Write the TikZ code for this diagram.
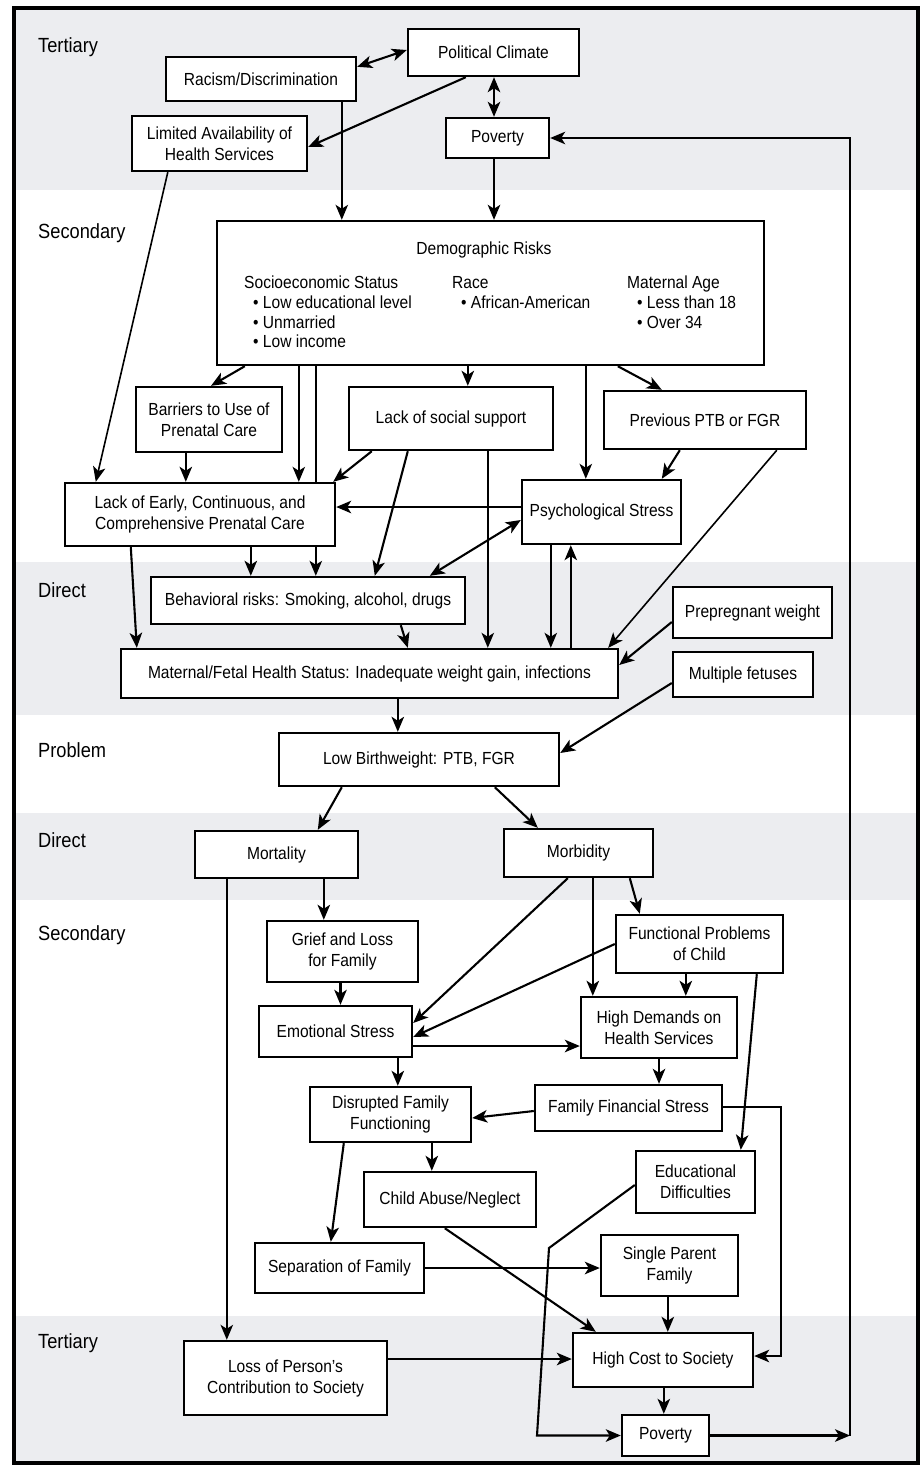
\documentclass[tikz,border=0pt]{standalone}
\usepackage{fontspec}
\setmainfont{Liberation Sans}[FakeStretch=0.89]
\usetikzlibrary{arrows.meta,calc}
\definecolor{bandgray}{RGB}{236,237,240}
\pgfdeclarelayer{bands}
\pgfdeclarelayer{links}
\pgfsetlayers{bands,links,main}
\tikzset{
  box/.style={draw, line width=2.4pt, fill=white, align=center, inner sep=0pt,
    font=\fontsize{17.5}{21}\selectfont},
  lvl/.style={anchor=west, inner sep=0pt, font=\fontsize{20.5}{22}\selectfont},
  dtxt/.style={anchor=base west, inner sep=0pt, font=\fontsize{17.5}{20}\selectfont},
  tip/.tip={Stealth[length=15pt,width=12.5pt,inset=4pt]},
  link/.style={line width=2.1pt, -tip},
  both/.style={line width=2.1pt, tip-tip},
  thin/.style={line width=1.6pt},
}
\begin{document}
\begin{tikzpicture}[x=1pt,y=-1pt]
\useasboundingbox (0,0) rectangle (920,1467);

% level bands and frame
\begin{pgfonlayer}{bands}
  \fill[bandgray] (13.5,8) rectangle (917.5,190);
  \fill[bandgray] (13.5,562) rectangle (917.5,715);
  \fill[bandgray] (13.5,813) rectangle (917.5,900);
  \fill[bandgray] (13.5,1316) rectangle (917.5,1463);
  \draw[line width=4pt] (13.5,8) rectangle (917.5,1463);
\end{pgfonlayer}

% level labels
\node[lvl] (tTop) at (38,47) {Tertiary};
\node[lvl] (sTop) at (38,233) {Secondary};
\node[lvl] (dTop) at (38,590) {Direct};
\node[lvl] (prob) at (38,750) {Problem};
\node[lvl] (dBot) at (38,840) {Direct};
\node[lvl] (sBot) at (38,935) {Secondary};
\node[lvl] (tBot) at (38,1343) {Tertiary};

% boxes
\node[box, minimum width=171, minimum height=47] (polit) at (493.5,52.5) {Political Climate};
\node[box, minimum width=190, minimum height=44] (racism) at (261,79) {Racism/Discrimination};
\node[box, minimum width=175, minimum height=55] (limited) at (219.5,143.5) {Limited Availability of\\Health Services};
\node[box, minimum width=103, minimum height=40] (pov1) at (497.5,138) {Poverty};
\node[box, minimum width=547, minimum height=144] (demo) at (490.5,293) {};
\node[box, minimum width=146, minimum height=65] (barriers) at (209,419.5) {Barriers to Use of\\Prenatal Care};
\node[box, minimum width=204, minimum height=63] (social) at (451,418.5) {Lack of social support};
\node[box, minimum width=202, minimum height=58] (prevptb) at (705,420) {Previous PTB or FGR};
\node[box, minimum width=270, minimum height=63] (lackcare) at (200,514.5) {Lack of Early, Continuous, and\\Comprehensive Prenatal Care};
\node[box, minimum width=159, minimum height=64] (psych) at (601.5,512) {Psychological Stress};
\node[box, minimum width=314, minimum height=47] (behav) at (308,600.5) {Behavioral risks: Smoking, alcohol, drugs};
\node[box, minimum width=159, minimum height=51] (prepreg) at (752.5,612.5) {Prepregnant weight};
\node[box, minimum width=497, minimum height=49] (maternal) at (369.5,673.5) {Maternal/Fetal Health Status: Inadequate weight gain, infections};
\node[box, minimum width=140, minimum height=45] (multiple) at (743,674.5) {Multiple fetuses};
\node[box, minimum width=280, minimum height=53] (lbw) at (419,759.5) {Low Birthweight: PTB, FGR};
\node[box, minimum width=163, minimum height=47] (mortality) at (276.5,854.5) {Mortality};
\node[box, minimum width=149, minimum height=48] (morbidity) at (578.5,853) {Morbidity};
\node[box, minimum width=151, minimum height=61] (grief) at (342.5,951.5) {Grief and Loss\\for Family};
\node[box, minimum width=167, minimum height=58] (functional) at (699.5,944) {Functional Problems\\of Child};
\node[box, minimum width=153, minimum height=51] (emotional) at (335.5,1031.5) {Emotional Stress};
\node[box, minimum width=156, minimum height=61] (highdem) at (659,1027.5) {High Demands on\\Health Services};
\node[box, minimum width=161, minimum height=55] (disrupted) at (390.5,1114.5) {Disrupted Family\\Functioning};
\node[box, minimum width=187, minimum height=46] (finstress) at (628.5,1108) {Family Financial Stress};
\node[box, minimum width=119, minimum height=62] (educ) at (695.5,1182) {Educational\\Difficulties};
\node[box, minimum width=172, minimum height=55] (abuse) at (450,1199.5) {Child Abuse/Neglect};
\node[box, minimum width=169, minimum height=50] (separation) at (339.5,1268) {Separation of Family};
\node[box, minimum width=137, minimum height=61] (single) at (669.5,1265.5) {Single Parent\\Family};
\node[box, minimum width=203, minimum height=74] (loss) at (285.5,1378) {Loss of Person’s\\Contribution to Society};
\node[box, minimum width=180, minimum height=54] (highcost) at (663,1360) {High Cost to Society};
\node[box, minimum width=87, minimum height=41] (pov2) at (665.5,1435.5) {Poverty};

% contents of the demographic box
\node[dtxt, anchor=base] (dTitle) at (484,254) {Demographic Risks};
\node[dtxt] (ses) at (244,288) {Socioeconomic Status};
\node[dtxt] (sesA) at (253,308) {• Low educational level};
\node[dtxt] (sesB) at (253,328) {• Unmarried};
\node[dtxt] (sesC) at (253,347) {• Low income};
\node[dtxt] (race) at (452,288) {Race};
\node[dtxt] (raceA) at (461,308) {• African-American};
\node[dtxt] (mage) at (627,288) {Maternal Age};
\node[dtxt] (mageA) at (637,308) {• Less than 18};
\node[dtxt] (mageB) at (637,328) {• Over 34};

% connectors
\begin{pgfonlayer}{links}
  % tertiary causes
  \draw[both] ([yshift=-11pt]racism.north east) -- ([yshift=2.5pt]polit.west);
  \coordinate (pcB) at ([xshift=0.5pt]polit.south);
  \draw[both] (pcB) -- (pcB |- pov1.north);
  \draw[link] ([xshift=59pt]polit.south west) -- ([yshift=-3.5pt]limited.east);
  \coordinate (rcB) at ([xshift=177pt]racism.south west);
  \draw[link,thin] (rcB) -- (rcB |- demo.north);
  \coordinate (pvA) at ([xshift=-3.5pt]pov1.south);
  \draw[link] (pvA) -- (pvA |- demo.north);
  \draw[link,thin] ([xshift=37pt]limited.south west) -- ([xshift=32pt]lackcare.north west);

  % feedback from the bottom poverty box
  \coordinate (rx) at (850,0);
  \coordinate (loop) at (pov2.east -| rx);
  \draw[link] (pov2.east) -- (loop);
  \draw[link,thin] (loop) |- (pov1.east);

  % demographic risks
  \draw[link] ([xshift=29pt]demo.south west) -- ([xshift=2pt]barriers.north);
  \coordinate (dmA) at ([xshift=83pt]demo.south west);
  \draw[link,thin] (dmA) -- (dmA |- lackcare.north);
  \coordinate (dmB) at ([xshift=100pt]demo.south west);
  \draw[link,thin] (dmB) -- (dmB |- behav.north);
  \coordinate (dmC) at ([xshift=252pt]demo.south west);
  \draw[link] (dmC) -- (dmC |- social.north);
  \coordinate (dmD) at ([xshift=370pt]demo.south west);
  \draw[link,thin] (dmD) -- (dmD |- psych.north);
  \draw[link] ([xshift=402pt]demo.south west) -- ([xshift=59pt]prevptb.north west);

  % secondary risks
  \coordinate (brA) at ([xshift=51pt]barriers.south west);
  \draw[link] (brA) -- (brA |- lackcare.north);
  \draw[link] ([xshift=24pt]social.south west) -- ([xshift=-3pt]lackcare.north east);
  \draw[link] ([xshift=60pt]social.south west) -- ([xshift=225pt]behav.north west);
  \coordinate (ssA) at ([xshift=140pt]social.south west);
  \draw[link,thin] (ssA) -- (ssA |- maternal.north);
  \coordinate (psA) at ([yshift=5pt]psych.west);
  \draw[link] (psA) -- (psA -| lackcare.east);
  \draw[both] ([xshift=280pt]behav.north west) -- ([yshift=-8pt]psych.west);
  \draw[link] ([xshift=77pt]prevptb.south west) -- ([xshift=141pt]psych.north west);
  \draw[link,thin] ([xshift=174pt]prevptb.south west) -- ([xshift=-11pt]maternal.north east);
  \coordinate (psB) at ([xshift=30pt]psych.south west);
  \draw[link,thin] (psB) -- (psB |- maternal.north);
  \coordinate (psC) at ([xshift=50pt]psych.south west);
  \draw[link,thin] (psC |- maternal.north) -- (psC);

  % direct risks
  \draw[link] ([xshift=67pt]lackcare.south west) -- ([xshift=17pt]maternal.north west);
  \coordinate (lcA) at ([xshift=187pt]lackcare.south west);
  \draw[link] (lcA) -- (lcA |- behav.north);
  \draw[link] ([xshift=251pt]behav.south west) -- ([xshift=288pt]maternal.north west);
  \draw[link] ([yshift=-9.5pt]prepreg.west) -- ([yshift=8.5pt]maternal.east);
  \coordinate (mtA) at ([xshift=278pt]maternal.south west);
  \draw[link] (mtA) -- (mtA |- lbw.north);
  \draw[link] ([yshift=-8.5pt]multiple.west) -- ([yshift=6.5pt]lbw.east);

  % consequences
  \draw[link] ([xshift=64pt]lbw.south west) -- ([xshift=124pt]mortality.north west);
  \draw[link] ([xshift=217pt]lbw.south west) -- ([xshift=35pt]morbidity.north west);
  \coordinate (moA) at ([xshift=33pt]mortality.south west);
  \draw[link,thin] (moA) -- (moA |- loss.north);
  \coordinate (moB) at ([xshift=130pt]mortality.south west);
  \draw[link] (moB) -- (moB |- grief.north);
  \draw[link] ([xshift=65pt]morbidity.south west) -- ([yshift=8.5pt]emotional.east);
  \coordinate (mbA) at ([xshift=90pt]morbidity.south west);
  \draw[link] (mbA) -- (mbA |- highdem.north);
  \draw[link] ([xshift=127pt]morbidity.south west) -- ([xshift=25pt]functional.north west);
  \draw[link] (functional.west) -- ([yshift=-5.5pt]emotional.east);
  \coordinate (fnA) at ([xshift=71pt]functional.south west);
  \draw[link] (fnA) -- (fnA |- highdem.north);
  \draw[link] ([xshift=142pt]functional.south west) -- ([xshift=106pt]educ.north west);
  \coordinate (grA) at ([xshift=-2pt]grief.south);
  \draw[link] (grA) -- (grA |- emotional.north);
  \coordinate (emA) at ([yshift=-14.5pt]emotional.east);
  \draw[link] (emA) -- (emA -| highdem.west);
  \coordinate (emB) at ([xshift=140pt]emotional.south west);
  \draw[link] (emB) -- (emB |- disrupted.north);
  \coordinate (hdA) at (highdem.south);
  \draw[link] (hdA) -- (hdA |- finstress.north);
  \draw[link] ([yshift=-3pt]finstress.west) -- ([yshift=-3.5pt]disrupted.east);
  \coordinate (fsA) at ([yshift=1pt]finstress.east);
  \coordinate (fsB) at ([xshift=58pt]fsA);
  \draw[link] (fsA) -- (fsB) |- ([yshift=4pt]highcost.east);
  \coordinate (drA) at ([xshift=123pt]disrupted.south west);
  \draw[link] (drA) -- (drA |- abuse.north);
  \draw[link] ([xshift=35pt]disrupted.south west) -- ([xshift=77pt]separation.north west);
  \draw[link] ([xshift=82pt]abuse.south west) -- ([xshift=24pt]highcost.north west);
  \coordinate (edB) at (549,1248);
  \coordinate (edC) at (537,1436);
  \draw[link] ([yshift=-3pt]educ.west) -- (edB) -- (edC |- pov2.west) -- (pov2.west);
  \coordinate (spA) at (separation.east);
  \draw[link] (spA) -- (spA -| single.west);
  \coordinate (sgA) at ([xshift=68pt]single.south west);
  \draw[link] (sgA) -- (sgA |- highcost.north);
  \coordinate (lsA) at ([yshift=19pt]loss.east);
  \draw[link] (lsA) -- (lsA -| highcost.west);
  \coordinate (hcA) at ([xshift=92pt]highcost.south west);
  \draw[link] (hcA) -- (hcA |- pov2.north);
\end{pgfonlayer}
\end{tikzpicture}
\end{document}
